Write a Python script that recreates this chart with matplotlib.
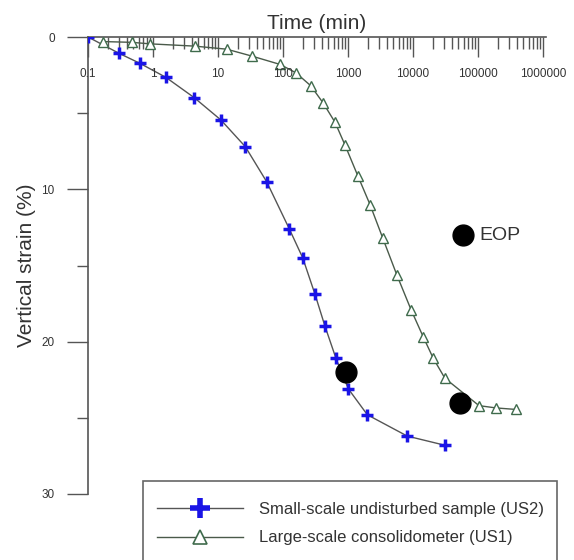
import matplotlib
matplotlib.use("Agg")
import matplotlib.pyplot as plt
import matplotlib.transforms as mtrans
from matplotlib.lines import Line2D
from matplotlib.patches import Rectangle

plt.rcParams['font.family'] = ['Liberation Sans', 'DejaVu Sans']

# Small-scale undisturbed sample (US2)
us2_time = [0.1, 0.30, 0.63, 1.58, 4.3, 11.1, 26.3, 56, 125, 201, 311, 443, 653, 1012, 1983, 8170, 30900]
us2_strain = [0.0, 1.07, 1.73, 2.65, 3.98, 5.45, 7.2, 9.5, 12.6, 14.5, 16.9, 19.0, 21.1, 23.1, 24.8, 26.2, 26.8]

# Large-scale consolidometer (US1)
us1_time = [0.17, 0.47, 0.9, 4.4, 13.6, 33, 90, 158, 267, 417, 631, 900, 1410, 2178, 3420, 5610,
            9310, 14400, 20500, 30900, 103500, 189000, 385000]
us1_strain = [0.3, 0.35, 0.45, 0.6, 0.8, 1.25, 1.8, 2.35, 3.2, 4.35, 5.6, 7.1, 9.1, 11.0, 13.2, 15.6,
              17.9, 19.7, 21.1, 22.4, 24.2, 24.35, 24.45]

# End of primary consolidation points
eop_time = [922, 52800]
eop_strain = [22.0, 24.05]
eop_key_time = [58000]
eop_key_strain = [13.0]

xtick_vals = [0.1, 1, 10, 100, 1000, 10000, 100000, 1000000]
xtick_labels = ['0.1', '1', '10', '100', '1000', '10000', '100000', '1000000']
ytick_vals = [0, 10, 20, 30]
ytick_minor = [5, 15, 25]
legend_labels = ['Small-scale undisturbed sample (US2)', 'Large-scale consolidometer (US1)']

txt = '#333333'
axc = '#555555'

fig = plt.figure(figsize=(5.74, 5.60), dpi=100)
ax = fig.add_axes([88/574, 1-494/560, (546-88)/574, (494-37)/560])

ax.set_xscale('log')
ax.set_xlim(0.1, 1.11e6)
ax.set_ylim(30, 0)

ax.plot(us2_time, us2_strain, color='#555555', lw=1.0, zorder=2)
ax.plot(us2_time, us2_strain, ls='none', marker='+', ms=9, mew=2.5, color='#1a14e6', zorder=3)
ax.plot(us1_time, us1_strain, color='#4a5a4a', lw=1.0, zorder=2)
ax.plot(us1_time, us1_strain, ls='none', marker='^', ms=6.5, mew=1.0, mfc='white', mec='#3f6b4c', zorder=3)
ax.plot(eop_time, eop_strain, ls='none', marker='o', ms=15, color='black', zorder=4)
ax.plot(eop_key_time, eop_key_strain, ls='none', marker='o', ms=15, color='black', zorder=4)
ax.text(1.05e5, 13.0, 'EOP', fontsize=14, color=txt, va='center', ha='left')

for s in ['right', 'bottom']:
    ax.spines[s].set_visible(False)
for s in ['top', 'left']:
    ax.spines[s].set_color(axc)
    ax.spines[s].set_linewidth(1.2)

ax.xaxis.set_ticks_position('top')
ax.xaxis.set_label_position('top')
ax.set_xticks(xtick_vals)
ax.set_xticklabels([])
ax.tick_params(axis='x', which='major', direction='in', length=14.4, width=1.0, color=axc)
ax.tick_params(axis='x', which='minor', direction='in', length=8.6, width=1.0, color=axc)
off = mtrans.ScaledTranslation(0, -37/100, fig.dpi_scale_trans)
for v, lab in zip(xtick_vals, xtick_labels):
    ax.text(v, 1.0, lab, transform=ax.get_xaxis_transform() + off, fontsize=8.5, color=txt,
            ha='center', va='center')

ax.set_xlabel('Time (min)', fontsize=15, color=txt, labelpad=2)

ax.set_yticks(ytick_vals)
ax.set_yticks(ytick_minor, minor=True)
ax.set_yticklabels([str(v) for v in ytick_vals], fontsize=8.5, color=txt)
ax.tick_params(axis='y', which='major', direction='out', length=15, width=1.0, color=axc, pad=9)
ax.tick_params(axis='y', which='minor', direction='out', length=8, width=1.0, color=axc)
ax.set_ylabel('Vertical strain (%)', fontsize=15, color=txt)
ax.yaxis.set_label_coords((36-88)/458, 0.5)

# legend frame (bottom extends beyond the figure as in the reference)
fig.patches.append(Rectangle((143/574, 1-575/560), (557-143)/574, (575-481)/560,
                             transform=fig.transFigure, fill=False, edgecolor='#666666', lw=1.2))
h1 = Line2D([], [], color='#555555', lw=1.0, marker='+', ms=14, mew=4, mec='#1a14e6')
h2 = Line2D([], [], color='#4a5a4a', lw=1.0, marker='^', ms=10, mew=1.2, mfc='white', mec='#3f6b4c')
fig.legend([h1, h2], legend_labels,
           loc='upper left', bbox_to_anchor=(157/574, 1-502/560), frameon=False, fontsize=12,
           handlelength=5.15, handletextpad=0.95, labelspacing=0.8, borderpad=0, borderaxespad=0,
           labelcolor=txt)

fig.savefig('out.png', dpi=100, facecolor='white')
